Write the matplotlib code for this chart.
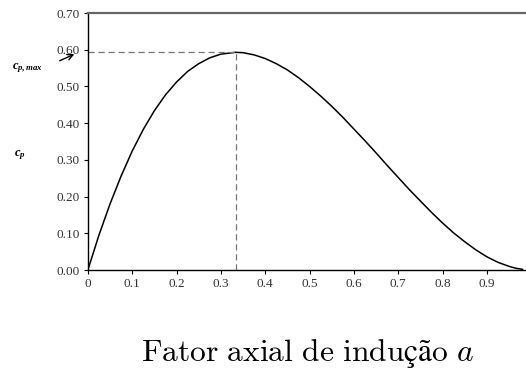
import matplotlib

matplotlib.use("Agg")
import matplotlib.pyplot as plt

# values (power coefficient vs axial induction)
induction = [0.0, 0.025, 0.05, 0.075, 0.1, 0.125, 0.15, 0.175, 0.2, 0.225, 0.25,
             0.275, 0.3, 0.333, 0.35, 0.375, 0.4, 0.425, 0.45, 0.475, 0.5, 0.525,
             0.55, 0.575, 0.6, 0.625, 0.65, 0.675, 0.7, 0.725, 0.75, 0.775, 0.8,
             0.825, 0.85, 0.875, 0.9, 0.925, 0.95, 0.965, 0.98]
cp = [0.0, 0.095, 0.180, 0.256, 0.324, 0.383, 0.434, 0.477, 0.512, 0.541, 0.562,
      0.578, 0.588, 0.593, 0.592, 0.586, 0.576, 0.562, 0.545, 0.524, 0.500, 0.474,
      0.446, 0.416, 0.384, 0.352, 0.319, 0.285, 0.252, 0.219, 0.188, 0.157, 0.128,
      0.101, 0.077, 0.055, 0.036, 0.021, 0.010, 0.005, 0.002]
a_opt = 0.333
cp_max = 0.593
x_ticks = [0, 0.1, 0.2, 0.3, 0.4, 0.5, 0.6, 0.7, 0.8, 0.9]
x_tick_labels = ["0", "0.1", "0.2", "0.3", "0.4", "0.5", "0.6", "0.7", "0.8", "0.9"]
y_ticks = [0.0, 0.1, 0.2, 0.3, 0.4, 0.5, 0.6, 0.7]

plt.rcParams["mathtext.fontset"] = "custom"
plt.rcParams["mathtext.it"] = "Liberation Serif:italic:bold"
plt.rcParams["mathtext.rm"] = "Liberation Serif:bold"

fig = plt.figure(figsize=(5.26, 3.72), dpi=100)
ax = fig.add_axes([0.167, 0.274, 0.833, 0.691])

ax.plot(induction, cp, color="black", lw=1.1)
ax.plot([0, a_opt], [cp_max, cp_max], color="#777777", lw=0.9, ls=(0, (5, 3)))
ax.plot([a_opt, a_opt], [0, cp_max], color="#777777", lw=0.9, ls=(0, (5, 3)))

ax.set_xlim(0, 0.988)
ax.set_ylim(0, 0.70)
ax.set_xticks(x_ticks)
ax.set_xticklabels(x_tick_labels)
ax.set_yticks(y_ticks)
ax.set_yticklabels([f"{v:.2f}" for v in y_ticks])
for label in ax.get_xticklabels() + ax.get_yticklabels():
    label.set_fontfamily("Liberation Serif")
    label.set_fontsize(9.5)
    label.set_color("#333333")
ax.tick_params(direction="out", length=3, width=0.8, pad=3)

ax.spines["right"].set_visible(False)
ax.spines["top"].set_color("#666666")
ax.spines["top"].set_linewidth(1.6)
ax.spines["left"].set_linewidth(1.0)
ax.spines["bottom"].set_linewidth(1.0)

ax.text(-0.138, 0.55, r"$c_{p,max}$", transform=ax.get_yaxis_transform(),
        ha="center", va="center", fontsize=9)
ax.text(-0.155, 0.313, r"$c_p$", transform=ax.get_yaxis_transform(),
        ha="center", va="center", fontsize=9)
ax.annotate("", xy=(-0.025, 0.591), xytext=(-0.07, 0.567),
            xycoords=ax.get_yaxis_transform(), textcoords=ax.get_yaxis_transform(),
            arrowprops=dict(arrowstyle="->", color="black", lw=1.0), annotation_clip=False)

fig.text(0.584, 0.03, r"$\mathrm{Fator\ axial\ de\ indução}\ \mathit{a}$",
         ha="center", va="baseline", fontsize=22.7, math_fontfamily="cm")

fig.savefig("out.png", dpi=100)
